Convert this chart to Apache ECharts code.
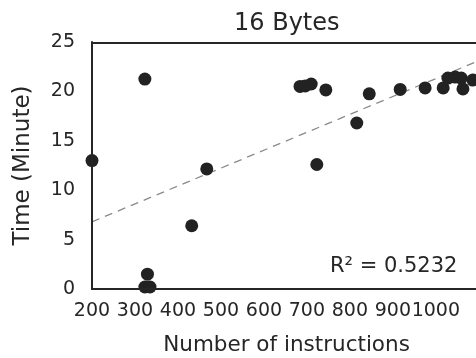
<!DOCTYPE html>
<html>
<head>
<meta charset="utf-8">
<script src="https://cdn.jsdelivr.net/npm/echarts@6/dist/echarts.min.js"></script>
<style>
html,body{margin:0;padding:0;background:#fff;}
#c{width:476px;height:358px;}
</style>
</head>
<body>
<div id="c"></div>
<script>
var titleText = "16 Bytes";
var xName = "Number of instructions";
var yName = "Time (Minute)";
var r2Text = "R\u00B2 = 0.5232";
var xTicks = [200, 300, 400, 500, 600, 700, 800, 900, 1000];
var yTicks = [0, 5, 10, 15, 20, 25];
var instructions = [200, 323, 329, 323, 335, 432, 467, 684, 696, 710, 744, 723, 816, 845, 917, 975, 1017, 1028, 1045, 1059, 1063, 1086];
var minutes = [13.0, 21.25, 1.5, 0.2, 0.2, 6.4, 12.15, 20.5, 20.55, 20.75, 20.15, 12.6, 16.8, 19.75, 20.2, 20.35, 20.35, 21.35, 21.45, 21.35, 20.25, 21.15];
var fitX = [200, 1105];
var fitY = [6.8, 23.2];

var points = instructions.map(function (x, i) { return [x, minutes[i]]; });
var fitLine = fitX.map(function (x, i) { return [x, fitY[i]]; });
var font = "DejaVu Sans";

var chart = echarts.init(document.getElementById('c'), null, {renderer: 'canvas'});
chart.setOption({
  animation: false,
  backgroundColor: '#ffffff',
  title: {
    text: titleText,
    left: 229,
    top: 7,
    textStyle: {fontFamily: font, fontSize: 24, fontWeight: 'normal', color: '#262626'}
  },
  grid: {left: 92, top: 42, bottom: 69, right: -5, containLabel: false, outerBoundsMode: 'none'},
  xAxis: {
    type: 'value',
    min: xTicks[0],
    max: 1105,
    interval: 100,
    name: xName,
    nameLocation: 'middle',
    nameGap: 45,
    nameTextStyle: {fontFamily: font, fontSize: 21.5, color: '#262626'},
    axisLine: {show: true, onZero: false, lineStyle: {color: '#262626', width: 2}},
    axisTick: {show: false},
    splitLine: {show: false},
    z: 3,
    axisLabel: {
      fontFamily: font, fontSize: 19, color: '#262626', margin: 13,
      showMaxLabel: false,
      formatter: function (v) { return xTicks.indexOf(v) >= 0 ? String(v) : ''; }
    }
  },
  yAxis: {
    type: 'value',
    min: yTicks[0],
    max: yTicks[yTicks.length - 1],
    interval: 5,
    name: yName,
    nameLocation: 'middle',
    nameGap: 57,
    nameTextStyle: {fontFamily: font, fontSize: 23, color: '#262626'},
    axisLine: {show: true, onZero: false, lineStyle: {color: '#262626', width: 2}},
    axisTick: {show: false},
    splitLine: {show: false},
    z: 3,
    axisLabel: {fontFamily: font, fontSize: 19, color: '#262626', margin: 17}
  },
  graphic: [
    {type: 'line', shape: {x1: 92, y1: 43, x2: 481, y2: 43}, style: {stroke: '#262626', lineWidth: 2}, z: 10},
    {type: 'text', left: 330, top: 256, style: {text: r2Text, font: '21px "DejaVu Sans"', fill: '#262626'}, z: 10}
  ],
  series: [
    {
      type: 'line',
      data: fitLine,
      symbol: 'none',
      lineStyle: {color: '#8a8a8a', width: 1.3, type: [8, 6]},
      z: 1,
      silent: true
    },
    {
      type: 'scatter',
      data: points,
      symbolSize: 13,
      itemStyle: {color: '#222222', opacity: 1},
      clip: false,
      z: 2
    }
  ]
});
</script>
</body>
</html>
